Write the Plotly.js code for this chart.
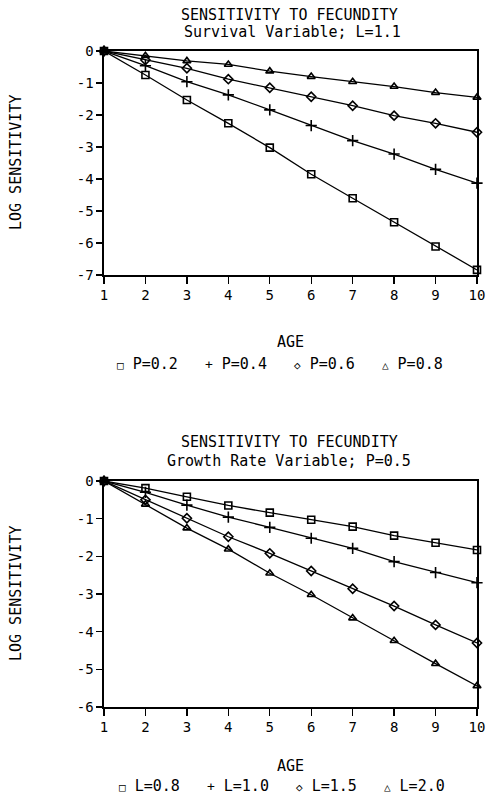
<!DOCTYPE html>
<html><head><meta charset="utf-8">
<script src="https://cdn.plot.ly/plotly-3.0.1.min.js"></script>
<style>html,body{margin:0;padding:0;background:#fff;}</style>
</head><body>
<div id="chart" style="width:487px;height:799px;"></div>
<script>
// ---- Data ----
const ages = [1, 2, 3, 4, 5, 6, 7, 8, 9, 10];

// Top panel: Survival variable, L=1.1
const survNames = ["P=0.2", "P=0.4", "P=0.6", "P=0.8"];
const survP02 = [0, -0.75, -1.53, -2.26, -3.02, -3.85, -4.60, -5.35, -6.11, -6.84];
const survP04 = [0, -0.46, -0.96, -1.37, -1.84, -2.33, -2.80, -3.22, -3.70, -4.13];
const survP06 = [0, -0.28, -0.54, -0.88, -1.15, -1.43, -1.71, -2.02, -2.26, -2.54];
const survP08 = [0, -0.15, -0.31, -0.42, -0.63, -0.80, -0.96, -1.11, -1.30, -1.45];

// Bottom panel: Growth rate variable, P=0.5
const growNames = ["L=0.8", "L=1.0", "L=1.5", "L=2.0"];
const growL08 = [0, -0.19, -0.42, -0.65, -0.84, -1.03, -1.21, -1.45, -1.64, -1.83];
const growL10 = [0, -0.30, -0.64, -0.96, -1.23, -1.52, -1.79, -2.14, -2.43, -2.70];
const growL15 = [0, -0.50, -0.99, -1.48, -1.92, -2.39, -2.86, -3.32, -3.82, -4.30];
const growL20 = [0, -0.62, -1.25, -1.81, -2.45, -3.02, -3.64, -4.24, -4.85, -5.44];

const xTicks = [1, 2, 3, 4, 5, 6, 7, 8, 9, 10];
const yTicksTop = [0, -1, -2, -3, -4, -5, -6, -7];
const yTicksBottom = [0, -1, -2, -3, -4, -5, -6];

// ---- Styling ----
const FONT = "DejaVu Sans Mono";
const symbols = ["square-open", "cross-thin-open", "diamond-open", "triangle-up-open"];
const legendGlyphs = ["\u25A1", "+", "\u25C7", "\u25B3"];

function mk(y, name, i, xa, ya) {
  return {
    x: ages, y: y, name: name, type: "scatter", mode: "lines+markers",
    xaxis: xa, yaxis: ya, cliponaxis: false, showlegend: false,
    line: {color: "#000", width: 1.3},
    marker: {symbol: symbols[i], size: i === 1 ? 8 : 7, color: "#000",
             line: {color: "#000", width: 1.6}}
  };
}

const traces = [
  mk(survP02, survNames[0], 0, "x", "y"),
  mk(survP04, survNames[1], 1, "x", "y"),
  mk(survP06, survNames[2], 2, "x", "y"),
  mk(survP08, survNames[3], 3, "x", "y"),
  mk(growL08, growNames[0], 0, "x2", "y2"),
  mk(growL10, growNames[1], 1, "x2", "y2"),
  mk(growL15, growNames[2], 2, "x2", "y2"),
  mk(growL20, growNames[3], 3, "x2", "y2")
];

function xAxis(anchor) {
  return {
    domain: [104/487, 477/487], anchor: anchor, range: [1, 10],
    tickvals: xTicks, ticktext: xTicks.map(String),
    ticks: "outside", ticklen: 7, tickcolor: "#000", tickwidth: 1.3,
    showline: true, mirror: true, linecolor: "#000", linewidth: 1.6,
    showgrid: false, zeroline: false, ticklabeloverflow: "allow",
    tickfont: {family: FONT, size: 14, color: "#000"}
  };
}
function yAxis(anchor, dom, lo, ticks) {
  return {
    domain: dom, anchor: anchor, range: [lo, 0],
    tickvals: ticks, ticktext: ticks.map(String),
    ticks: "outside", ticklen: 6, tickcolor: "#000", tickwidth: 1.3,
    showline: true, mirror: true, linecolor: "#000", linewidth: 1.6,
    showgrid: false, zeroline: false, ticklabeloverflow: "allow",
    tickfont: {family: FONT, size: 14, color: "#000"}
  };
}

function legendText(names) {
  return names.map((n, i) =>
    '<span style="font-size:' + (i === 1 ? 13 : 11) + 'px">' + legendGlyphs[i] + '</span> ' + n
  ).join("   ");
}

function pyl(px) { return 1 - px / 799; }

const annotations = [
  {text: "SENSITIVITY TO FECUNDITY", x: 289/487, y: pyl(15)},
  {text: "Survival Variable; L=1.1", x: 292/487, y: pyl(32)},
  {text: "AGE", x: 290/487, y: pyl(342)},
  {text: legendText(survNames), x: 280/487, y: pyl(364)},
  {text: "LOG SENSITIVITY", x: 16/487, y: pyl(163), textangle: -90},
  {text: "SENSITIVITY TO FECUNDITY", x: 289/487, y: pyl(442)},
  {text: "Growth Rate Variable; P=0.5", x: 289/487, y: pyl(461)},
  {text: "AGE", x: 290/487, y: pyl(766)},
  {text: legendText(growNames), x: 282/487, y: pyl(786)},
  {text: "LOG SENSITIVITY", x: 16/487, y: pyl(594), textangle: -90}
].map(a => Object.assign({
  xref: "paper", yref: "paper", showarrow: false,
  xanchor: "center", yanchor: "middle",
  font: {family: FONT, size: 15, color: "#000"}
}, a));

const layout = {
  width: 487, height: 799,
  margin: {l: 0, r: 0, t: 0, b: 0},
  paper_bgcolor: "#fff", plot_bgcolor: "#fff",
  showlegend: false,
  xaxis: xAxis("y"),
  yaxis: yAxis("x", [pyl(275), pyl(51)], -7, yTicksTop),
  xaxis2: xAxis("y2"),
  yaxis2: yAxis("x2", [pyl(707), pyl(481)], -6, yTicksBottom),
  annotations: annotations
};

Plotly.newPlot("chart", traces, layout, {displayModeBar: false, staticPlot: true});
</script>
</body></html>
